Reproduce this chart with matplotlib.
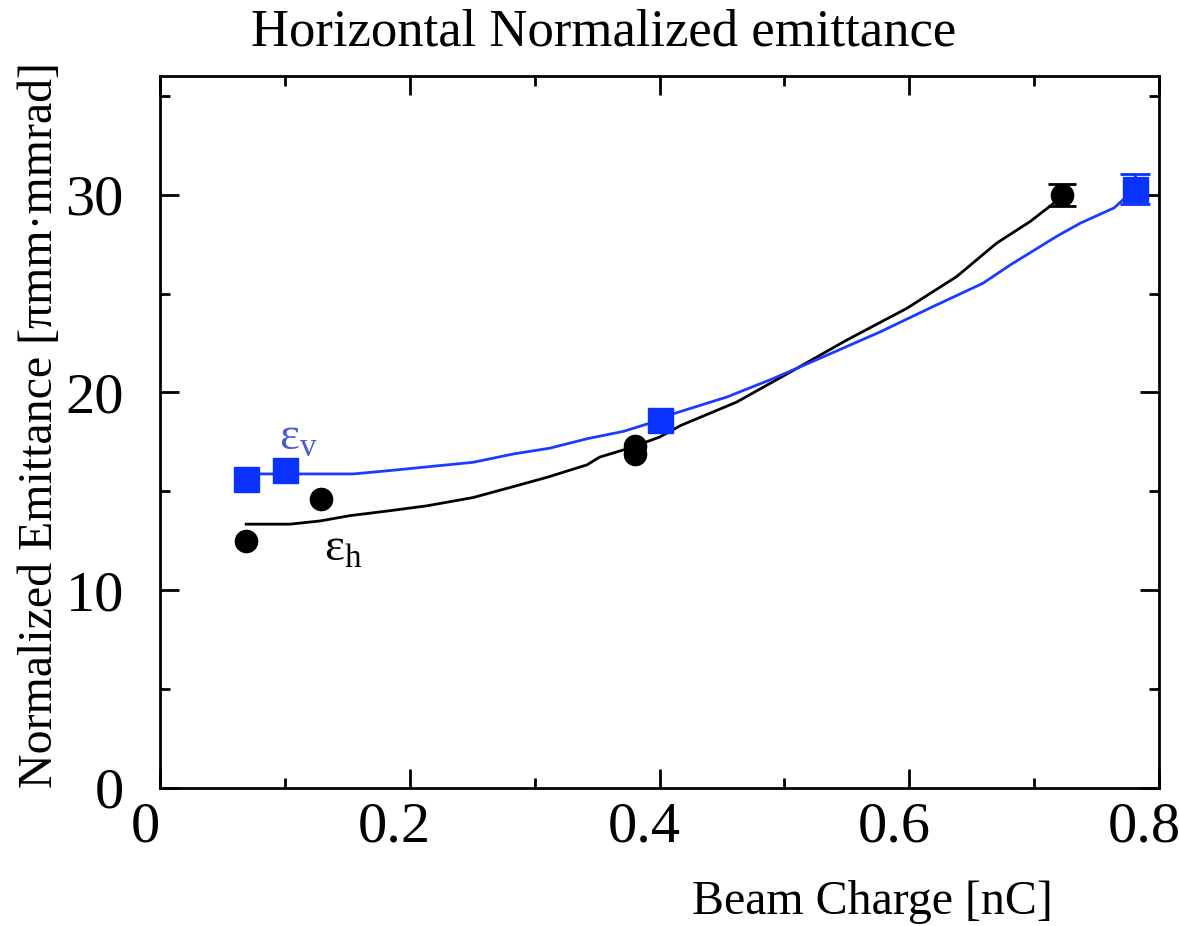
import numpy as np
import matplotlib
matplotlib.use("Agg")
import matplotlib.pyplot as plt
import matplotlib.transforms as mtransforms
from matplotlib.ticker import MultipleLocator

plt.rcParams['font.family'] = ['Liberation Serif', 'DejaVu Serif']
plt.rcParams['mathtext.fontset'] = 'custom'
plt.rcParams['mathtext.rm'] = 'Liberation Serif'

# measured points (horizontal = black circles, vertical = blue squares)
h_charge = [0.069, 0.129, 0.380, 0.380, 0.722]
h_emit = [12.5, 14.6, 16.9, 17.3, 30.0]
h_err = [0.0, 0.0, 0.0, 0.0, 0.55]

v_charge = [0.069, 0.100, 0.400, 0.781]
v_emit = [15.6, 16.1, 18.6, 30.3]
v_err = [0.0, 0.0, 0.0, 0.75]

# fitted curves
h_fit_q = [0.069, 0.104, 0.128, 0.152, 0.184, 0.214, 0.251, 0.283, 0.310, 0.342,
           0.352, 0.374, 0.400, 0.417, 0.462, 0.505, 0.550, 0.598, 0.638, 0.670,
           0.697, 0.716, 0.722]
h_fit_e = [13.34, 13.34, 13.5, 13.77, 14.02, 14.27, 14.69, 15.24, 15.71, 16.34,
           16.73, 17.15, 17.74, 18.33, 19.52, 21.04, 22.65, 24.25, 25.86, 27.55,
           28.65, 29.58, 30.0]

v_fit_q = [0.069, 0.155, 0.184, 0.211, 0.251, 0.283, 0.312, 0.342, 0.371, 0.395,
           0.411, 0.454, 0.491, 0.534, 0.577, 0.619, 0.659, 0.681, 0.718, 0.737,
           0.764, 0.781]
v_fit_e = [15.88, 15.88, 16.05, 16.22, 16.47, 16.89, 17.18, 17.66, 18.03, 18.5,
           18.92, 19.77, 20.70, 21.88, 23.07, 24.34, 25.52, 26.45, 27.89, 28.56,
           29.33, 30.3]

fig = plt.figure(figsize=(11.79, 9.26), dpi=100)
ax = fig.add_axes([160/1179, 1 - 788/926, 999/1179, 712/926])

ax.plot(h_fit_q, h_fit_e, color='black', lw=2)
ax.plot(v_fit_q, v_fit_e, color='#1a3cff', lw=2)

# markers
ax.plot(h_charge, h_emit, 'o', color='black', ms=16)
ax.plot(v_charge, v_emit, 's', color='#0a32ff', ms=18)

# error bars only where an error was drawn
hq, he, hr = np.array(h_charge), np.array(h_emit), np.array(h_err)
vq, ve, vr = np.array(v_charge), np.array(v_emit), np.array(v_err)
m = hr > 0
ax.errorbar(hq[m], he[m], yerr=hr[m], fmt='none', ecolor='black',
            capsize=10, elinewidth=2, capthick=2)
m = vr > 0
ax.errorbar(vq[m], ve[m], yerr=vr[m], fmt='none', ecolor='#0a32ff',
            capsize=11, elinewidth=2, capthick=2)

ax.text(0.095, 17.1, 'ε$_\\mathregular{v}$', color='#4a5ad0', fontsize=34)
ax.text(0.131, 11.5, 'ε$_\\mathregular{h}$', color='black', fontsize=34)

ax.set_xlim(0, 0.8)
ax.set_ylim(0, 36)
ax.xaxis.set_major_locator(MultipleLocator(0.2))
ax.xaxis.set_minor_locator(MultipleLocator(0.1))
ax.yaxis.set_major_locator(MultipleLocator(10))
ax.yaxis.set_minor_locator(MultipleLocator(5))
ax.set_xticks([0, 0.2, 0.4, 0.6, 0.8])
ax.set_xticklabels(['0', '0.2', '0.4', '0.6', '0.8'])

ax.tick_params(which='both', direction='in', top=True, right=True, width=2)
ax.tick_params(which='major', length=14, labelsize=42)
ax.tick_params(axis='x', which='major', pad=10)
ax.tick_params(axis='y', which='major', pad=26)
ax.tick_params(which='minor', length=7)
for s in ax.spines.values():
    s.set_linewidth(2)

# x tick labels sit a bit left of their ticks in the original
shift = mtransforms.ScaledTranslation(-15/100, 0, fig.dpi_scale_trans)
for lab in ax.get_xticklabels():
    lab.set_transform(lab.get_transform() + shift)

fig.text(604/1179, 1 - 32/926, 'Horizontal Normalized emittance',
         ha='center', va='center', fontsize=38)
fig.text(1053/1179, 1 - 902/926, 'Beam Charge [nC]',
         ha='right', va='center', fontsize=34.5)
fig.text(40/1179, 1 - 425/926, 'Normalized Emittance [πmm·mmrad]',
         ha='center', va='center', rotation=90, fontsize=34.5)

fig.savefig('out.png', dpi=100)
